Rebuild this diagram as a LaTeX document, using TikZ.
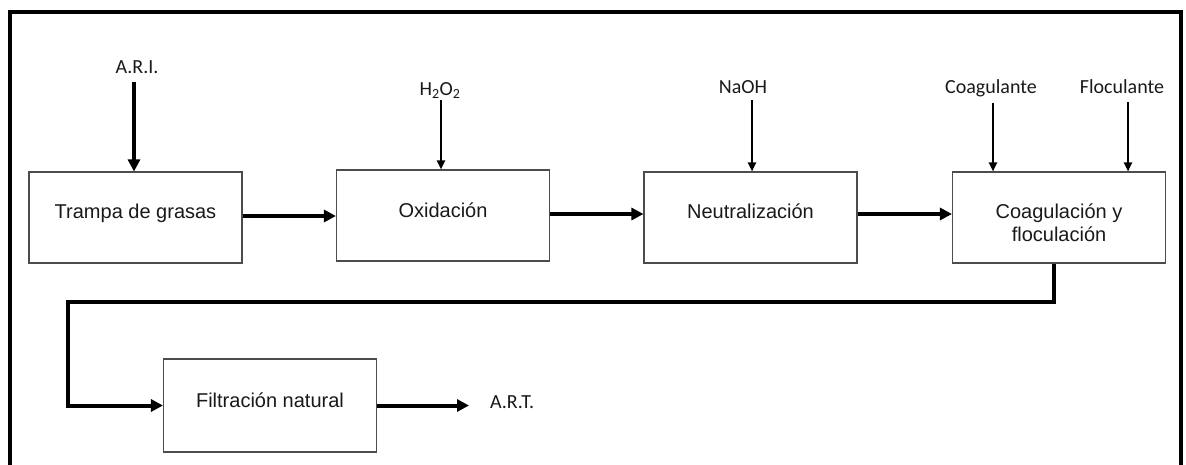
\documentclass[tikz,border=0pt]{standalone}
\usepackage{fontspec}
\setmainfont{Liberation Sans}
\newfontfamily\labelfont{Carlito}
\usetikzlibrary{arrows.meta}
\begin{document}
\begin{tikzpicture}[x=1pt,y=-1pt,
  stagebox/.style={draw=black!70,line width=1.1pt,rectangle,minimum width=213pt,minimum height=91pt,inner sep=0pt},
  stagetext/.style={font=\fontsize{20}{23}\selectfont,text=black!90,inner sep=0pt},
  feedlabel/.style={font=\labelfont\fontsize{20}{24}\selectfont,text=black!90,inner sep=0pt},
  mainflow/.style={line width=4pt,line join=miter,-{Triangle[length=12pt,width=12pt]}},
  dosing/.style={line width=2pt,-{Triangle[length=9pt,width=8pt]}},
  frame/.style={line width=4pt,line join=miter}]
\useasboundingbox (0,0) rectangle (1186,464);

% outer frame, open at the bottom
\draw[frame] (10,470) -- (10,12) -- (1181,12) -- (1181,470);

% process stages
\node[stagebox] (b1) at (135.5,217.5) {};
\node[stagebox] (b2) at (443,215.5) {};
\node[stagebox] (b3) at (750.5,217.5) {};
\node[stagebox] (b4) at (1059,217.5) {};
\node[stagebox,minimum height=93pt] (b5) at (270,405.5) {};

\node[stagetext,anchor=base] (t1) at (135.5,218) {Trampa de grasas};
\node[stagetext,anchor=base] (t2) at (443,217) {Oxidación};
\node[stagetext,anchor=base] (t3) at (750.5,218) {Neutralización};
\node[stagetext,anchor=base] (t4a) at (1059,218) {Coagulación y};
\node[stagetext,anchor=base] (t4b) at (1059,241) {floculación};
\node[stagetext,anchor=base] (t5) at (270,407) {Filtración natural};

% inputs
\node[feedlabel,anchor=base] (ari) at (137,73) {A.R.I.};
\node[feedlabel,anchor=base] (h2o2) at (440,95) {H\textsubscript{2}O\textsubscript{2}};
\node[feedlabel,anchor=base] (naoh) at (743,93) {NaOH};
\node[feedlabel,anchor=base] (coag) at (991,93) {Coagulante};
\node[feedlabel,anchor=base] (floc) at (1122,93) {Floculante};
\node[feedlabel,anchor=base west] (art) at (490,408) {A.R.T.};

\coordinate (in1) at (134,82);
\coordinate (in2) at (441,100);
\coordinate (in3) at (752,100);
\coordinate (in4) at (993,103);
\coordinate (in5) at (1128,102);

\draw[mainflow] (in1) -- (in1 |- b1.north);
\draw[dosing] (in2) -- (in2 |- b2.north);
\draw[dosing] (in3) -- (in3 |- b3.north);
\draw[dosing] (in4) -- (in4 |- b4.north);
\draw[dosing] (in5) -- (in5 |- b4.north);

% main line
\draw[mainflow] (b1.east |- 0,216) -- (b2.west |- 0,216);
\draw[mainflow] (b2.east |- 0,214) -- (b3.west |- 0,214);
\draw[mainflow] (b3.east |- 0,214) -- (b4.west |- 0,214);

\coordinate (turn) at (68,302);
\draw[mainflow] ([xshift=-5pt]b4.south) |- (turn) |- (b5.west);

\coordinate (outlet) at (469,405.5);
\draw[mainflow] (b5.east) -- (outlet);
\end{tikzpicture}
\end{document}
